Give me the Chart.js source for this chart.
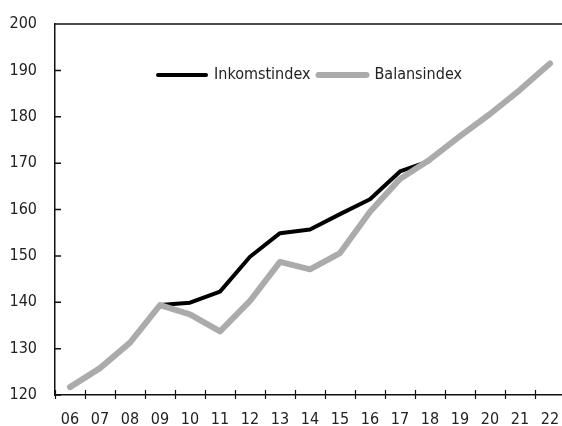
<!DOCTYPE html>
<html>
<head>
<meta charset="utf-8">
<script src="https://cdn.jsdelivr.net/npm/chart.js@4"></script>
<style>
  html, body { margin: 0; padding: 0; overflow: hidden; background: #fff; }
</style>
</head>
<body>
<canvas id="chart" width="566" height="426"></canvas>
<script>
// years on the x axis (20xx)
var years = ['06', '07', '08', '09', '10', '11', '12', '13', '14', '15', '16', '17', '18', '19', '20', '21', '22'];
var inkomstindex = [null, null, null, 139.4, 139.9, 142.3, 149.8, 154.9, 155.7, 159.0, 162.2, 168.2, 170.5, null, null, null, null];
var balansindex = [121.7, 125.8, 131.3, 139.4, 137.4, 133.7, 140.3, 148.7, 147.1, 150.6, 159.5, 166.6, 170.8, 175.8, 180.6, 185.8, 191.5];
var yMin = 120, yMax = 200, yStep = 10;

var FONT = "'Liberation Sans Narrow', 'DejaVu Sans Condensed', sans-serif";
var TEXT = '#222';
var BLACK = '#000';
var GREY = '#ababab';
var LEGEND_TOP = 59;

// inward y ticks, crossing x ticks, top frame line, and legend placed inside the plot
var frame = {
  id: 'frame',
  afterLayout: function (chart) {
    var lg = chart.legend, a = chart.chartArea;
    lg.left = a.left;
    lg.right = a.right;
    lg.top = LEGEND_TOP;
    lg.bottom = LEGEND_TOP + 40;
  },
  beforeDatasetsDraw: function (chart) {
    var ctx = chart.ctx, a = chart.chartArea;
    var x = chart.scales.x, y = chart.scales.y;
    ctx.save();
    ctx.strokeStyle = '#111';
    ctx.lineWidth = 1.5;
    ctx.beginPath();
    ctx.moveTo(a.left, a.top);
    ctx.lineTo(a.right, a.top);
    y.ticks.forEach(function (t) {
      var py = y.getPixelForValue(t.value);
      ctx.moveTo(a.left, py);
      ctx.lineTo(a.left + 6, py);
    });
    ctx.stroke();
    ctx.lineWidth = 1.2;
    ctx.beginPath();
    for (var i = 0; i <= years.length; i++) {
      var px = Math.round(x.getPixelForValue(i - 0.5)) + 0.5;
      ctx.moveTo(px, a.bottom - 5);
      ctx.lineTo(px, a.bottom + 4);
    }
    ctx.stroke();
    ctx.restore();
  }
};

new Chart(document.getElementById('chart'), {
  type: 'line',
  data: {
    labels: years,
    datasets: [{
      label: 'Inkomstindex',
      data: inkomstindex,
      borderColor: BLACK,
      backgroundColor: BLACK,
      borderWidth: 4,
      borderJoinStyle: 'round',
      pointRadius: 0,
      tension: 0,
      order: 1
    }, {
      label: 'Balansindex',
      data: balansindex,
      borderColor: GREY,
      backgroundColor: GREY,
      borderWidth: 6,
      borderCapStyle: 'round',
      borderJoinStyle: 'round',
      pointRadius: 0,
      tension: 0,
      order: 0
    }]
  },
  options: {
    responsive: false,
    animation: false,
    layout: { padding: { top: 23, left: 0, right: 1, bottom: 0 } },
    plugins: {
      tooltip: { enabled: false },
      legend: {
        position: 'top',
        maxHeight: 1,
        labels: {
          boxWidth: 48,
          boxHeight: 0,
          padding: 8,
          color: TEXT,
          font: { family: FONT, size: 16 },
          sort: function (a, b) { return a.datasetIndex - b.datasetIndex; }
        }
      }
    },
    scales: {
      x: {
        type: 'category',
        offset: true,
        grid: { display: false, drawTicks: false },
        border: { display: true, color: '#111', width: 1.5 },
        ticks: { color: TEXT, font: { family: FONT, size: 16 }, padding: 15, autoSkip: false, maxRotation: 0 },
        afterFit: function (s) { s.height = 31; s.paddingLeft = 0; s.paddingRight = 0; }
      },
      y: {
        min: yMin,
        max: yMax,
        grid: { display: false, drawTicks: false },
        border: { display: true, color: '#111', width: 1.5 },
        ticks: { stepSize: yStep, color: TEXT, font: { family: FONT, size: 16 }, padding: 18 },
        afterFit: function (s) { s.width = 55; s.paddingTop = 0; s.paddingBottom = 0; }
      }
    }
  },
  plugins: [frame]
});
</script>
</body>
</html>
